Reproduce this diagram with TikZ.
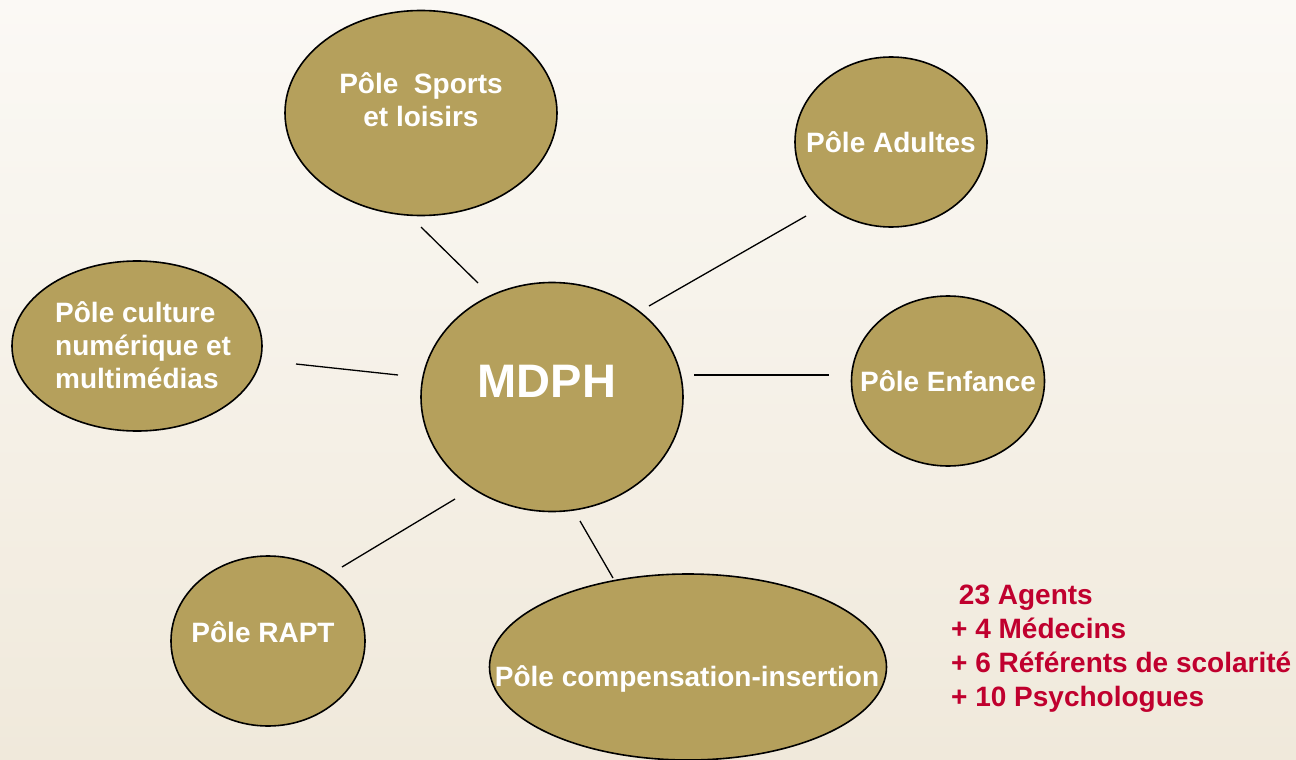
\documentclass[tikz,border=0pt]{standalone}
\usepackage{fontspec}
\setmainfont{Liberation Sans}
\usepackage{xcolor}
\usetikzlibrary{shapes}
\definecolor{polefill}{HTML}{B5A05C}
\definecolor{polered}{HTML}{C0002E}
\definecolor{fondhaut}{HTML}{FBF9F5}
\definecolor{fondmilieu}{HTML}{EBE2D0}
\definecolor{fondbas}{HTML}{F0E9DB}

\begin{document}
\begin{tikzpicture}[x=1pt, y=-1pt,
    pole/.style={ellipse, draw, line width=1.6pt, fill=polefill, inner sep=0pt},
    poletext/.style={text=white, font=\bfseries\fontsize{28}{33}\selectfont, align=center, inner sep=0pt},
    trait/.style={line width=1.3pt}]
    % fond
    \shade[top color=fondhaut, middle color=fondmilieu, bottom color=fondbas] (0,0) rectangle (1296,760);
    \useasboundingbox (0,0) rectangle (1296,760);

    \node[pole, minimum width=272pt, minimum height=205pt] (sports) at (421,113) {};
    \node[pole, minimum width=192pt, minimum height=170pt] (adultes) at (891,142) {};
    \node[pole, minimum width=250pt, minimum height=170pt] (culture) at (137,346) {};
    \node[pole, minimum width=262pt, minimum height=229pt] (mdph) at (552,397) {};
    \node[pole, minimum width=193pt, minimum height=170pt] (enfance) at (948,381) {};
    \node[pole, minimum width=194pt, minimum height=170pt] (rapt) at (268,641) {};
    \node[pole, minimum width=397pt, minimum height=186pt] (compens) at (688,667) {};

    \node[poletext] (sports-t) at (421,100) {Pôle\ \ Sports\\et loisirs};
    \node[poletext] (adultes-t) at (891,142) {Pôle Adultes};
    \node[poletext, align=left, anchor=west] (culture-t) at (55,345) {Pôle culture\\numérique et\\multimédias};
    \node[poletext, font=\bfseries\fontsize{47}{56}\selectfont] (mdph-t) at (547,381) {MDPH};
    \node[poletext] (enfance-t) at (948,381) {Pôle Enfance};
    \node[poletext] (rapt-t) at (263,632) {Pôle RAPT};
    \node[poletext] (compens-t) at (687,679) {Pôle compensation-insertion};

    \node[text=polered, font=\bfseries\fontsize{28}{34}\selectfont, align=left, anchor=west, inner sep=0pt] (effectif) at (951,649)
        {\ 23 Agents\\+ 4 Médecins\\+ 6 Référents de scolarité\\+ 10 Psychologues};

    % traits
    \coordinate (a1) at (421,227); \coordinate (a2) at (478,283);
    \coordinate (b1) at (806,216); \coordinate (b2) at (649,306);
    \coordinate (c1) at (296,364); \coordinate (c2) at (398,375);
    \coordinate (d1) at (694,375); \coordinate (d2) at (829,375);
    \coordinate (e1) at (455,499); \coordinate (e2) at (342,567);
    \coordinate (f1) at (580,521); \coordinate (f2) at (613,578);
    \draw[trait] (a1) -- (a2);
    \draw[trait] (b1) -- (b2);
    \draw[trait] (c1) -- (c2);
    \draw[trait] (d1) -- (d2);
    \draw[trait] (e1) -- (e2);
    \draw[trait] (f1) -- (f2);
\end{tikzpicture}
\end{document}
